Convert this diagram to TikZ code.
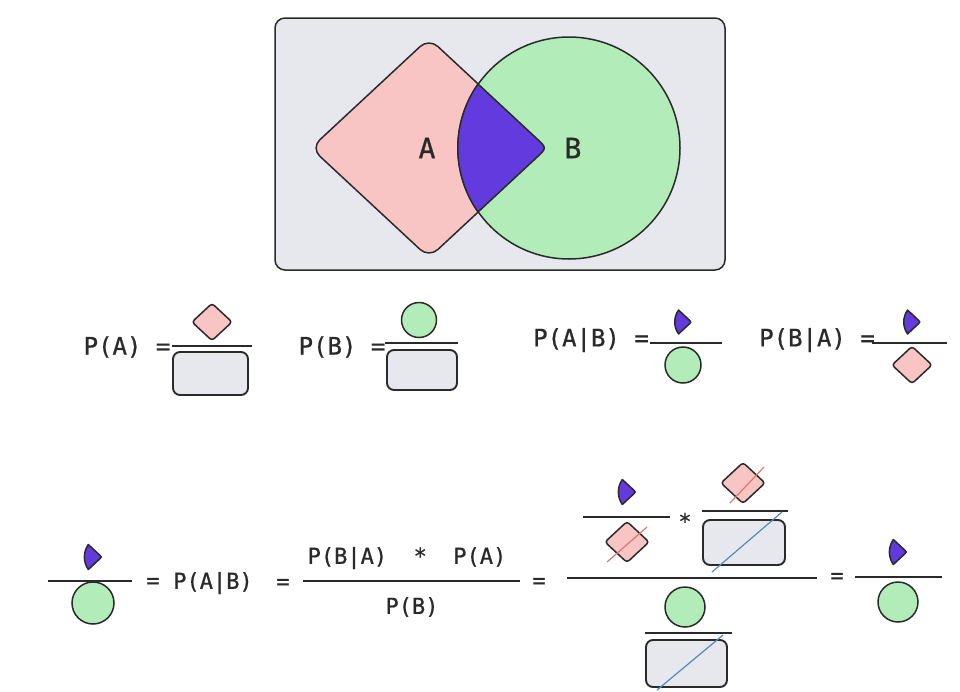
\documentclass[tikz,border=0pt]{standalone}
\usepackage{fontspec}
\usepackage{tikz}
\newfontfamily\eqfont[FakeBold=0.8]{DejaVu Sans Mono}

\definecolor{pinkA}{HTML}{F8C4C4}
\definecolor{greenB}{HTML}{B2ECB8}
\definecolor{purpleAB}{HTML}{623ADE}
\definecolor{frameG}{HTML}{E6E8EE}
\definecolor{outline}{HTML}{2A2A2A}
\definecolor{strikeR}{HTML}{DC786C}
\definecolor{strikeB}{HTML}{4E8CBE}

\tikzset{
  shape line/.style={draw=outline, line width=1.5pt},
  pics/dia/.style={code={\draw[shape line, fill=pinkA, rounded corners=#1]
      (-1,0) -- (0,-0.93) -- (1,0) -- (0,0.93) -- cycle;}},
  pics/dia/.default=3pt,
  pics/circ/.style={code={\draw[shape line, fill=greenB] (0,0) circle (1);}},
  pics/lens/.style={code={\draw[shape line, fill=purpleAB, line join=round]
      (-0.203,0.5423) arc[start angle=144.81, end angle=215.19, radius=0.941]
      -- (0.293,-0.081) .. controls (0.38,0) .. (0.293,0.081) -- cycle;}},
}

\begin{document}
\begin{tikzpicture}[x=1pt, y=1pt,
  bar/.style={draw=outline, line width=1.5pt},
  box/.style={draw=outline, line width=1.9pt, fill=frameG, rounded corners=7pt},
  eq/.style={font=\eqfont\fontsize{24}{28}\selectfont, text=outline, inner sep=0pt},
  eqs/.style={font=\eqfont\fontsize{22}{26}\selectfont, text=outline, inner sep=0pt},
  big/.style={font=\eqfont\fontsize{28}{32}\selectfont, text=outline, inner sep=0pt},
  strike/.style={line width=1.2pt}]
\fill[white] (0,0) rectangle (960,-691);
\useasboundingbox (0,0) rectangle (960,-691);

\filldraw[shape line, fill=frameG, rounded corners=10pt] (275,-18) rectangle (725,-270);
\pic[scale=118] at (429,-148) {dia=12pt};
\pic[scale=111] at (569,-148) {circ};
\pic[scale=118] at (502,-148) {lens};
\node[big] (labA) at (427,-148) {A};
\node[big] (labB) at (573,-148) {B};

\node[eq] (pa) at (127,-347) {P(A) =};
\pic[scale=20] at (212,-322) {dia};
\draw[bar] (172,-346) -- (252,-346);
\draw[box] (173,-352) rectangle (248,-395);

\node[eq] (pb) at (342,-347) {P(B) =};
\pic[scale=17.5] at (419,-320) {circ};
\draw[bar] (385,-343) -- (458,-343);
\draw[box] (387,-350) rectangle (457,-390);

\node[eq] (pab) at (591,-340) {P(A|B) =};
\pic[scale=22] at (683,-322) {lens};
\draw[bar] (650,-343) -- (722,-343);
\pic[scale=18] at (683,-365) {circ};

\node[eq] (pba) at (817,-340) {P(B|A) =};
\pic[scale=22] at (912,-322) {lens};
\draw[bar] (872,-343) -- (947,-343);
\pic[scale=20] at (912,-365) {dia};

\pic[scale=23] at (93,-557) {lens};
\draw[bar] (48,-581) -- (132,-581);
\pic[scale=21] at (93,-603) {circ};
\node[eqs] (eq1) at (153,-583) {=};
\node[eqs] (pab2) at (213,-583) {P(A|B)};
\node[eqs] (eq2) at (283,-584) {=};

\node[eqs] (num) at (407,-558) {P(B|A)~~*~~P(A)};
\draw[bar] (303,-581) -- (520,-581);
\node[eqs] (den) at (412,-607) {P(B)};
\node[eqs] (eq3) at (539,-583) {=};

\draw[bar] (567,-578) -- (817,-578);
\pic[scale=23] at (627,-492) {lens};
\draw[bar] (583,-517) -- (670,-517);
\pic[scale=22] at (627,-542) {dia};
\draw[strike, strikeR] (607,-562) -- (647,-527);
\node[eqs] (times) at (685,-521) {*};
\pic[scale=22] at (743,-483) {dia};
\draw[strike, strikeR] (730,-503) -- (764,-467);
\draw[bar] (702,-511) -- (788,-511);
\draw[box] (703,-520) rectangle (785,-565);
\draw[strike, strikeB] (712,-572) -- (782,-512);
\pic[scale=20] at (685,-607) {circ};
\draw[bar] (645,-633) -- (732,-633);
\draw[box] (646,-640) rectangle (727,-687);
\draw[strike, strikeB] (657,-690) -- (723,-635);

\node[eqs] (eq4) at (837,-578) {=};
\pic[scale=23] at (898,-552) {lens};
\draw[bar] (855,-577) -- (942,-577);
\pic[scale=20] at (898,-602) {circ};
\end{tikzpicture}
\end{document}
